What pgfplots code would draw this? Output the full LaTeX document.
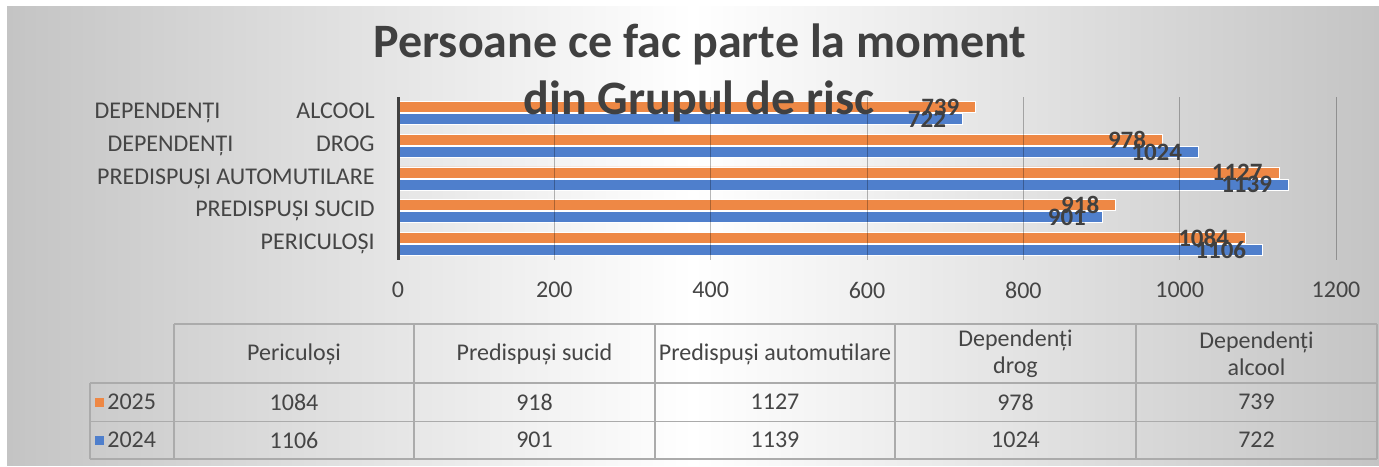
\documentclass[border=0pt]{standalone}
\usepackage{fontspec}
\setmainfont{Carlito}
\usepackage{pgfplots}
\pgfplotsset{compat=1.18}
\definecolor{cblue}{HTML}{4F7FCC}
\definecolor{corange}{HTML}{EE8845}
\definecolor{txt}{HTML}{404040}
\definecolor{tick}{HTML}{454545}
\definecolor{tline}{HTML}{ABABAB}
\definecolor{bgg}{HTML}{C4C4C4}
\begin{document}
\begin{tikzpicture}
\path[use as bounding box] (0,0) rectangle (689.5pt,233pt);
\fill[white] (0,0) rectangle (689.5pt,233pt);
\shade[left color=bgg, right color=bgg, middle color=white] (3.5pt,0.5pt) rectangle (689.5pt,229.5pt);
\begin{axis}[
  at={(199pt,103pt)}, anchor=south west,
  scale only axis, width=469pt, height=81.5pt,
  xmin=0, xmax=1200, ymin=-0.5, ymax=4.5,
  xbar=0.5pt, bar width=5.5pt,
  xtick={0,200,...,1200}, ytick={0,...,4},
  yticklabels={{PERICULOȘI},{PREDISPUȘI SUCID},{PREDISPUȘI AUTOMUTILARE},{\makebox[133.5pt]{DEPENDENȚI\hfill DROG}},{\makebox[140pt]{DEPENDENȚI\hfill ALCOOL}}},
  axis on top,
  axis lines=left, axis line style={-},
  x axis line style={draw=none},
  y axis line style={draw=black!75, line width=1.5pt},
  major tick length=0pt,
  xmajorgrids, grid style={draw=black, draw opacity=0.28, line width=0.5pt},
  /pgf/number format/1000 sep={},
  /pgf/number format/assume math mode=true,
  ticklabel style={font=\fontsize{12pt}{14pt}\selectfont, text=tick},
  xticklabel style={anchor=center, yshift=-15pt},
  yticklabel style={anchor=east, inner sep=0pt, xshift=-11.5pt},
  nodes near coords, point meta=x,
  every node near coord/.append style={anchor=east, xshift=-8pt, inner sep=0pt, font=\bfseries\fontsize{12.5pt}{14pt}\selectfont, text=txt},
]
\addplot[fill=cblue, draw=white, line width=0.4pt] coordinates {(1106,0) (901,1) (1139,2) (1024,3) (722,4)};
\addplot[fill=corange, draw=white, line width=0.4pt] coordinates {(1084,0) (918,1) (1127,2) (978,3) (739,4)};
\end{axis}
\node[anchor=base, font=\bfseries\fontsize{24pt}{28pt}\selectfont, text=txt] at (350pt,204pt) {Persoane ce fac parte la moment};
\node[anchor=base, font=\bfseries\fontsize{24pt}{28pt}\selectfont, text=txt] at (349.5pt,175.5pt) {din Grupul de risc};
% data table
\begin{scope}[draw=tline, line width=0.75pt]
\draw (87pt,71pt) -- (688.5pt,71pt);
\draw (45pt,41.5pt) -- (688.5pt,41.5pt);
\draw (45pt,22.15pt) -- (688.5pt,22.15pt);
\draw (45pt,3.5pt) -- (688.5pt,3.5pt);
\draw (45pt,3.5pt) -- (45pt,41.5pt);
\foreach \x in {87,207,327.5,447.5,568,688.5} \draw (\x pt,3.5pt) -- (\x pt,71pt);
\end{scope}
\begin{scope}[every node/.style={font=\fontsize{12pt}{13.5pt}\selectfont, text=tick, align=center}]
\node at (147pt,56pt) {Periculoși};
\node at (267.25pt,56pt) {Predispuși sucid};
\node at (387.5pt,56pt) {Predispuși automutilare};
\node at (507.75pt,56pt) {Dependenți\\drog};
\node at (628.25pt,56pt) {Dependenți\\alcool};
\node at (147pt,32pt) {1084};
\node at (267.25pt,32pt) {918};
\node at (387.5pt,32pt) {1127};
\node at (507.75pt,32pt) {978};
\node at (628.25pt,32pt) {739};
\node at (147pt,13pt) {1106};
\node at (267.25pt,13pt) {901};
\node at (387.5pt,13pt) {1139};
\node at (507.75pt,13pt) {1024};
\node at (628.25pt,13pt) {722};
\node[anchor=west, inner sep=0pt] at (53.5pt,32pt) {2025};
\node[anchor=west, inner sep=0pt] at (53.5pt,13pt) {2024};
\end{scope}
\fill[corange] (47.5pt,29.75pt) rectangle (52pt,34.25pt);
\fill[cblue] (47.5pt,10.75pt) rectangle (52pt,15.25pt);
\end{tikzpicture}
\end{document}
